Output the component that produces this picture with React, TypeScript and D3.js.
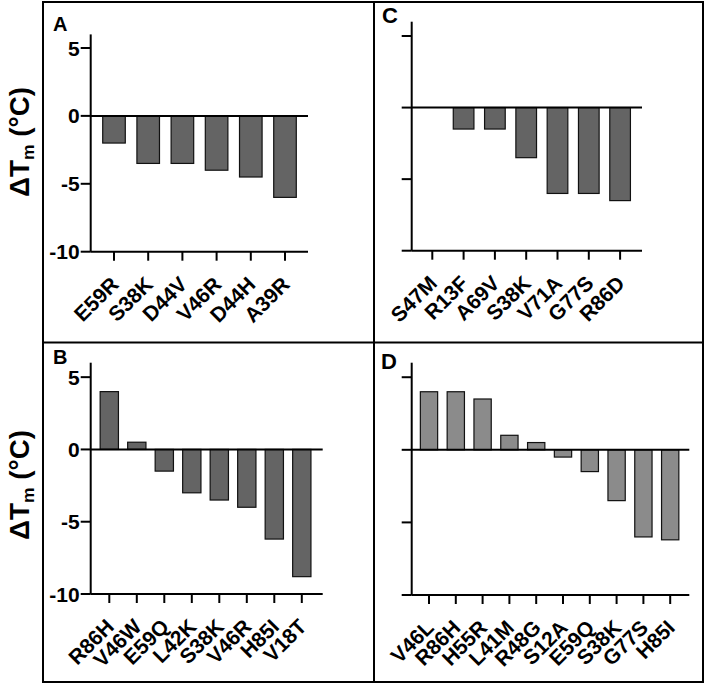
import React from "react";
import * as d3 from "d3";

// ---- data ----
const catsA = ["E59R", "S38K", "D44V", "V46R", "D44H", "A39R"];
const valsA = [-2, -3.5, -3.5, -4, -4.5, -6];

const catsB = ["R86H", "V46W", "E59Q", "L42K", "S38K", "V46R", "H85I", "V18T"];
const valsB = [4, 0.5, -1.5, -3, -3.5, -4, -6.2, -8.8];

const catsC = ["S47M", "R13F", "A69V", "S38K", "V71A", "G77S", "R86D"];
const valsC = [0, -1.5, -1.5, -3.5, -6, -6, -6.5];

const catsD = ["V46L", "R86H", "H55R", "L41M", "R48G", "S12A", "E59Q", "S38K", "G77S", "H85I"];
const valsD = [4, 4, 3.5, 1, 0.5, -0.5, -1.5, -3.5, -6, -6.2];

const yTicks = [5, 0, -5, -10];
const yDomain: [number, number] = [-10, 6];

const FONT = "'Liberation Sans', Arial, Helvetica, sans-serif";

type Layout = {
  letter: string;
  letterX: number;
  letterY: number;
  letterSize: number;
  axisX: number;
  yBottom: number;
  yTop: number;
  firstTick: number;
  step: number;
  xEnd: number;
  barFrac: number;
  fill: string;
  showYLabels: boolean;
  ylabelY?: number;
};

const panels: { cats: string[]; vals: number[]; L: Layout }[] = [
  {
    cats: catsA,
    vals: valsA,
    L: { letter: "A", letterX: 53, letterY: 31, letterSize: 20, axisX: 90.7, yBottom: 251.7, yTop: 34.4, firstTick: 114, step: 34.2, xEnd: 308, barFrac: 0.66, fill: "#646464", showYLabels: true, ylabelY: 142 },
  },
  {
    cats: catsB,
    vals: valsB,
    L: { letter: "B", letterX: 53, letterY: 364, letterSize: 20, axisX: 90.7, yBottom: 594, yTop: 362.7, firstTick: 109.3, step: 27.5, xEnd: 322.7, barFrac: 0.665, fill: "#646464", showYLabels: true, ylabelY: 485 },
  },
  {
    cats: catsC,
    vals: valsC,
    L: { letter: "C", letterX: 382, letterY: 22.5, letterSize: 22, axisX: 411.7, yBottom: 250.7, yTop: 21.7, firstTick: 432.3, step: 31.3, xEnd: 642, barFrac: 0.66, fill: "#646464", showYLabels: false },
  },
  {
    cats: catsD,
    vals: valsD,
    L: { letter: "D", letterX: 381, letterY: 369, letterSize: 22, axisX: 411.7, yBottom: 595, yTop: 362.7, firstTick: 429, step: 26.8, xEnd: 689.3, barFrac: 0.645, fill: "#8b8b8b", showYLabels: false },
  },
];

function Panel({ cats, vals, L }: { cats: string[]; vals: number[]; L: Layout }) {
  const y = d3.scaleLinear().domain(yDomain).range([L.yBottom, L.yTop]);
  const x0 = L.firstTick - L.step / 2;
  const x = d3
    .scaleBand<string>()
    .domain(cats)
    .range([x0, x0 + L.step * cats.length])
    .paddingInner(1 - L.barFrac)
    .paddingOuter((1 - L.barFrac) / 2);
  const bw = x.bandwidth();
  const cx = (c: string) => (x(c) as number) + bw / 2;
  return (
    <g>
      <text x={L.letterX} y={L.letterY} fontFamily={FONT} fontWeight="bold" fontSize={L.letterSize} fill="#000">
        {L.letter}
      </text>
      {cats.map((c, i) => {
        const v = vals[i];
        if (v === 0) return null;
        const top = Math.min(y(v), y(0));
        const h = Math.abs(y(v) - y(0));
        return (
          <rect key={c + i} x={x(c)} y={top} width={bw} height={h} fill={L.fill} stroke="#111" strokeWidth={1.2} />
        );
      })}
      {/* y axis */}
      <line x1={L.axisX} x2={L.axisX} y1={y(6)} y2={y(-10)} stroke="#000" strokeWidth={2} />
      {yTicks.map((t) => (
        <g key={t}>
          <line x1={L.axisX - 10} x2={L.axisX} y1={y(t)} y2={y(t)} stroke="#000" strokeWidth={2} />
          {L.showYLabels && (
            <text
              x={L.axisX - 11}
              y={y(t)}
              dy="0.36em"
              textAnchor="end"
              fontFamily={FONT}
              fontWeight="bold"
              fontSize={21}
              fill="#000"
            >
              {t}
            </text>
          )}
        </g>
      ))}
      {/* zero line */}
      <line x1={L.axisX} x2={L.xEnd} y1={y(0)} y2={y(0)} stroke="#000" strokeWidth={2} />
      {/* x axis */}
      <line x1={L.axisX} x2={L.xEnd} y1={y(-10)} y2={y(-10)} stroke="#000" strokeWidth={2} />
      {cats.map((c) => (
        <g key={"t" + c}>
          <line x1={cx(c)} x2={cx(c)} y1={y(-10)} y2={y(-10) + 9} stroke="#000" strokeWidth={2} />
          <text
            transform={`translate(${cx(c) + 6},${y(-10) + 34}) rotate(-45)`}
            textAnchor="end"
            fontFamily={FONT}
            fontWeight="bold"
            fontSize={21}
            fill="#000"
          >
            {c}
          </text>
        </g>
      ))}
      {L.showYLabels && (
        <text
          transform={`translate(29,${L.ylabelY}) rotate(-90)`}
          textAnchor="middle"
          fontFamily={FONT}
          fontWeight="bold"
          fontSize={27}
          textLength={110}
          lengthAdjust="spacingAndGlyphs"
          fill="#000"
        >
          ΔT
          <tspan fontSize={17} dy={5}>m</tspan>
          <tspan dy={-5}> (°C)</tspan>
        </text>
      )}
    </g>
  );
}

export default function App() {
  return (
    <svg
      width={706}
      height={685}
      viewBox="0 0 706 685"
      style={{ position: "absolute", left: 0, top: 0, background: "#fff" }}
    >
      <rect x={0} y={0} width={706} height={685} fill="#fff" />
      {/* frame */}
      <rect x={43} y={2} width={660} height={680} fill="none" stroke="#000" strokeWidth={2} />
      <line x1={374} x2={374} y1={2} y2={682} stroke="#000" strokeWidth={2} />
      <line x1={43} x2={703} y1={342.5} y2={342.5} stroke="#000" strokeWidth={2} />
      {panels.map((p) => (
        <Panel key={p.L.letter} cats={p.cats} vals={p.vals} L={p.L} />
      ))}
    </svg>
  );
}
